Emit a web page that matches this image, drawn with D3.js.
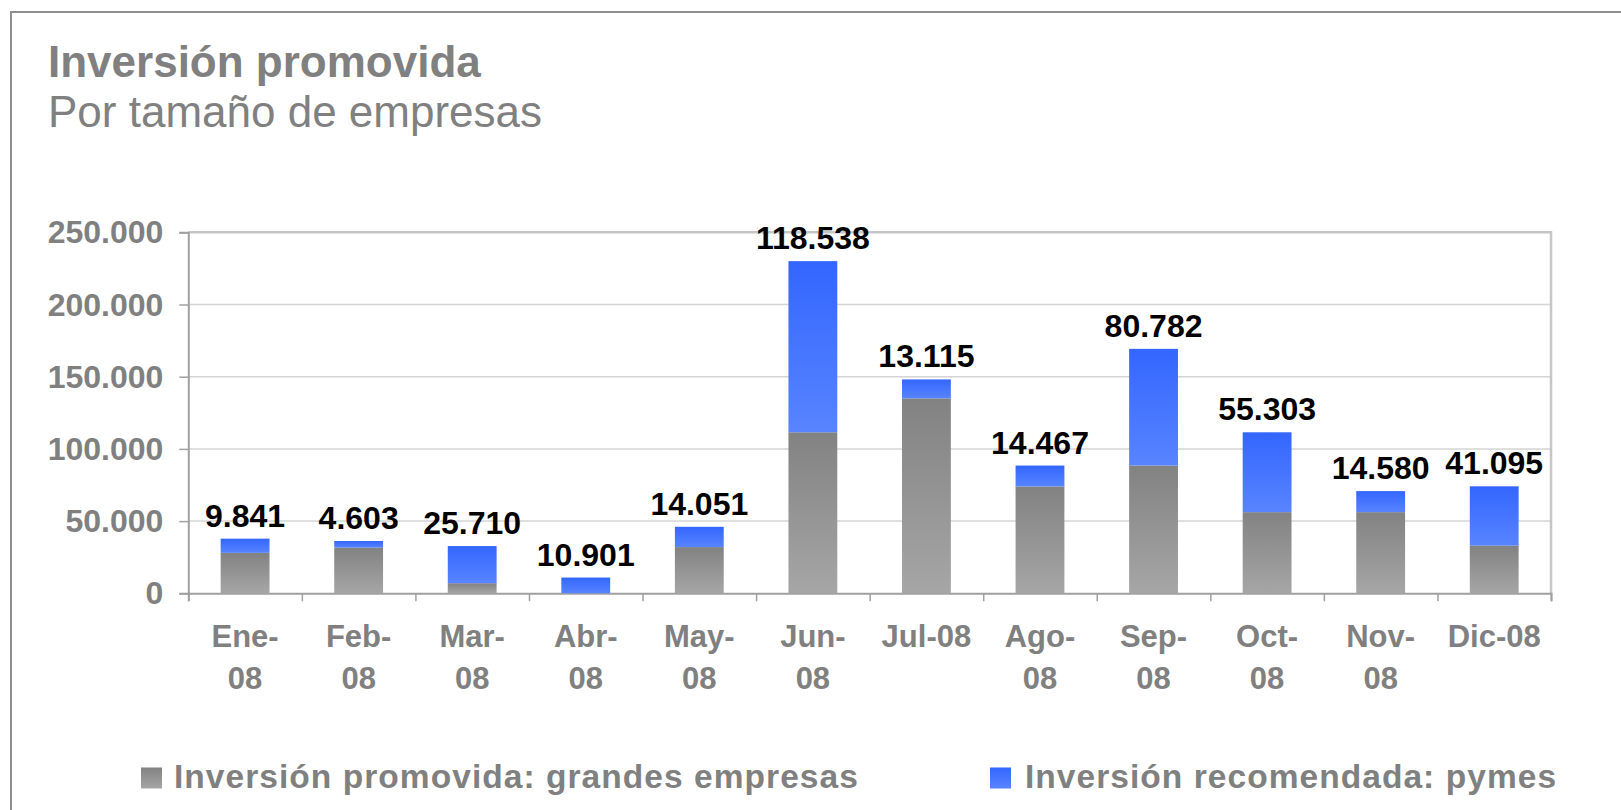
<!DOCTYPE html>
<html>
<head>
<meta charset="utf-8">
<script src="https://cdn.jsdelivr.net/npm/d3@7"></script>
<style>
  html, body { margin: 0; padding: 0; background: #fff; }
  svg { display: block; }
  text { font-family: "Liberation Sans", Arial, Helvetica, sans-serif; }
</style>
</head>
<body>
<svg id="chart" width="1621" height="810"></svg>
<script>
// ---- data ----
const categories = ["Ene-08","Feb-08","Mar-08","Abr-08","May-08","Jun-08","Jul-08","Ago-08","Sep-08","Oct-08","Nov-08","Dic-08"];
const xTickLines = [["Ene-","08"],["Feb-","08"],["Mar-","08"],["Abr-","08"],["May-","08"],["Jun-","08"],["Jul-08"],["Ago-","08"],["Sep-","08"],["Oct-","08"],["Nov-","08"],["Dic-08"]];
const grandes = [28000, 31600, 7000, 0, 32000, 111500, 135000, 74000, 88500, 56200, 56200, 33000];
const pymes   = [9841, 4603, 25710, 10901, 14051, 118538, 13115, 14467, 80782, 55303, 14580, 41095];
const yTicks  = [0, 50000, 100000, 150000, 200000, 250000];
const seriesNames = ["Inversión promovida: grandes empresas", "Inversión recomendada: pymes"];
const title = "Inversión promovida";
const subtitle = "Por tamaño de empresas";

// ---- setup ----
const svg = d3.select("#chart");
const W = 1621, H = 810;
const plot = { left: 188.3, right: 1551, top: 232.3, bottom: 593.3 };
const es = d3.formatLocale({ decimal: ",", thousands: ".", grouping: [3], currency: ["", ""] });
const fmt = es.format(",d");

const x = d3.scaleBand().domain(categories).range([plot.left, plot.right]).padding(0);
const y = d3.scaleLinear().domain([0, 250000]).range([plot.bottom, plot.top]);
const barW = x.bandwidth() * 0.43;

const defs = svg.append("defs");
function grad(id, c0, c1) {
  const g = defs.append("linearGradient").attr("id", id).attr("x1", 0).attr("y1", 0).attr("x2", 0).attr("y2", 1);
  g.append("stop").attr("offset", "0%").attr("stop-color", c0);
  g.append("stop").attr("offset", "100%").attr("stop-color", c1);
}
grad("gGray", "#828282", "#a6a6a6");
grad("gBlue", "#3366ff", "#5884ff");

// outer frame
svg.append("path")
  .attr("d", `M11,${H} L11,12 L${W},12`)
  .attr("fill", "none").attr("stroke", "#8f8f8f").attr("stroke-width", 2);

// titles
svg.append("text").attr("x", 48).attr("y", 77)
  .attr("font-size", 44).attr("font-weight", "bold").attr("fill", "#808080").text(title);
svg.append("text").attr("x", 48).attr("y", 127)
  .attr("font-size", 44).attr("fill", "#808080").text(subtitle);

// gridlines
svg.append("g").selectAll("line").data(yTicks.filter(d => d > 0 && d < 250000)).join("line")
  .attr("x1", plot.left).attr("x2", plot.right)
  .attr("y1", d => y(d)).attr("y2", d => y(d))
  .attr("stroke", "#d4d4d4").attr("stroke-width", 1.5);
// top and right plot border
svg.append("path")
  .attr("d", `M${plot.left},${y(250000)} L${plot.right},${y(250000)} L${plot.right},${plot.bottom}`)
  .attr("fill", "none").attr("stroke", "#c6c6c6").attr("stroke-width", 2.5);

// y axis
const yAxis = svg.append("g").attr("transform", `translate(${plot.left},0)`)
  .call(d3.axisLeft(y).tickValues(yTicks).tickSize(9).tickPadding(16).tickFormat(fmt));
yAxis.select(".domain").attr("stroke", "#a0a0a0").attr("stroke-width", 2);
yAxis.selectAll(".tick line").attr("stroke", "#a0a0a0").attr("stroke-width", 1.5);
yAxis.selectAll(".tick text").attr("font-size", 32).attr("font-weight", "bold").attr("fill", "#808080")
  .attr("font-family", "'Liberation Sans', Arial, sans-serif").attr("dy", "0.33em");

// x axis (ticks on category boundaries)
const xb = d3.scaleLinear().domain([0, categories.length]).range([plot.left, plot.right]);
const xAxis = svg.append("g").attr("transform", `translate(0,${plot.bottom})`)
  .call(d3.axisBottom(xb).tickValues(d3.range(categories.length + 1)).tickSize(8).tickFormat(""));
xAxis.select(".domain").attr("stroke", "#a0a0a0").attr("stroke-width", 2);
xAxis.selectAll(".tick line").attr("stroke", "#a0a0a0").attr("stroke-width", 1.5);

// category labels
const xl = svg.append("g");
categories.forEach((c, i) => {
  const t = xl.append("text").attr("x", x(c) + x.bandwidth() / 2).attr("y", 647)
    .attr("text-anchor", "middle").attr("font-size", 31).attr("font-weight", "bold").attr("fill", "#808080");
  xTickLines[i].forEach((ln, j) => {
    t.append("tspan").attr("x", x(c) + x.bandwidth() / 2).attr("dy", j === 0 ? 0 : 42).text(ln);
  });
});

// bars
const bars = svg.append("g");
categories.forEach((c, i) => {
  const cx = x(c) + x.bandwidth() / 2;
  if (grandes[i] > 0) {
    bars.append("rect").attr("x", cx - barW / 2).attr("width", barW)
      .attr("y", y(grandes[i])).attr("height", y(0) - y(grandes[i]))
      .attr("fill", "url(#gGray)");
  }
  bars.append("rect").attr("x", cx - barW / 2).attr("width", barW)
    .attr("y", y(grandes[i] + pymes[i])).attr("height", y(grandes[i]) - y(grandes[i] + pymes[i]))
    .attr("fill", "url(#gBlue)");
  svg.append("text").attr("x", cx).attr("y", y(grandes[i] + pymes[i]) - 12)
    .attr("text-anchor", "middle").attr("font-size", 32).attr("font-weight", "bold").attr("fill", "#000")
    .text(fmt(pymes[i]));
});

// legend
const legend = [
  { name: seriesNames[0], fill: "url(#gGray)", sx: 141, tx: 174 },
  { name: seriesNames[1], fill: "url(#gBlue)", sx: 990, tx: 1025 }
];
legend.forEach(l => {
  svg.append("rect").attr("x", l.sx).attr("y", 767.5).attr("width", 21).attr("height", 21).attr("fill", l.fill);
  svg.append("text").attr("x", l.tx).attr("y", 788)
    .attr("font-size", 33.5).attr("font-weight", "bold").attr("fill", "#808080")
    .attr("letter-spacing", 1.05).text(l.name);
});
</script>
</body>
</html>
